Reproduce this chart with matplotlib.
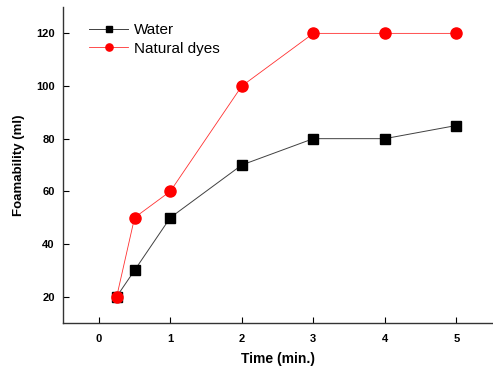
import numpy as np
import matplotlib.pyplot as plt

plt.rcParams['font.family'] = ['Liberation Sans', 'DejaVu Sans']

# data
time_min = [0.25, 0.5, 1, 2, 3, 4, 5]
water = [20, 30, 50, 70, 80, 80, 85]
natural_dyes = [20, 50, 60, 100, 120, 120, 120]
xticks = [0, 1, 2, 3, 4, 5]
yticks = [20, 40, 60, 80, 100, 120]

fig = plt.figure(figsize=(4.93, 3.72), dpi=100)
ax = fig.add_axes([0.128, 0.132, 0.87, 0.849])

ax.plot(time_min, water, color='#404040', lw=0.7, marker='s', ms=6.5,
        mec='black', mfc='black', label='Water')
ax.plot(time_min, natural_dyes, color='#ff3030', lw=0.6, marker='o', ms=8,
        mec='red', mfc='red', label='Natural dyes')

ax.set_xlim(-0.5, 5.5)
ax.set_ylim(10, 130)
ax.set_xticks(xticks)
ax.set_yticks(yticks)
ax.tick_params(direction='in', length=4.5, width=0.8, labelsize=8, pad=8)
ax.tick_params(axis='y', pad=6)
for lab in ax.get_xticklabels() + ax.get_yticklabels():
    lab.set_fontweight('bold')

for s in ['top', 'right']:
    ax.spines[s].set_visible(False)
for s in ['left', 'bottom']:
    ax.spines[s].set_linewidth(1.0)
    ax.spines[s].set_color('#333333')

ax.set_xlabel('Time (min.)', fontsize=10, fontweight='bold', labelpad=6)
ax.set_ylabel('Foamability (ml)', fontsize=9.5, fontweight='bold', labelpad=8)

ax.legend(loc='upper left', bbox_to_anchor=(0.061, 0.949), frameon=False,
          fontsize=11, handlelength=2.55, handletextpad=0.35, labelspacing=0.3,
          borderaxespad=0, borderpad=0, markerscale=0.65)

fig.savefig('out.png', dpi=100)
